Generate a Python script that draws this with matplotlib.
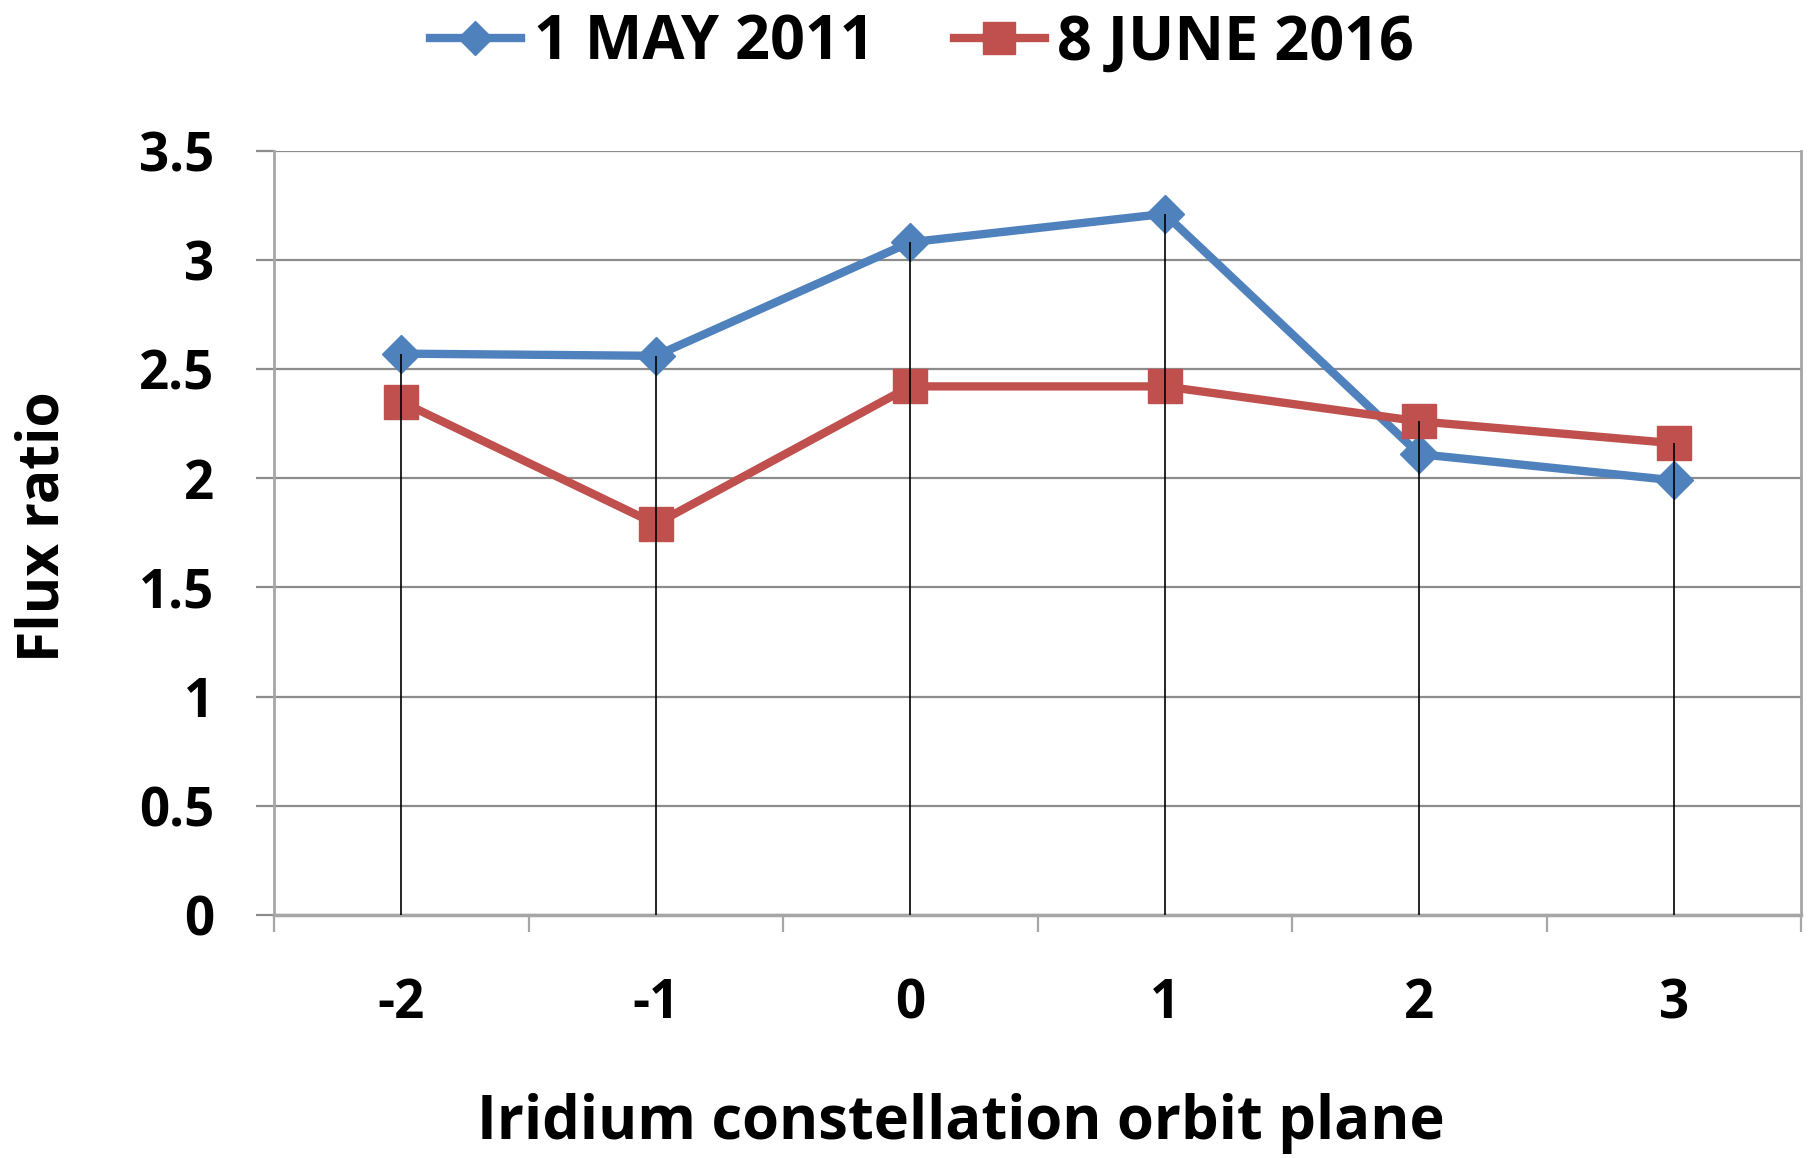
import matplotlib
matplotlib.use("Agg")
import matplotlib.pyplot as plt
import numpy as np

categories = ["-2", "-1", "0", "1", "2", "3"]
may2011 = [2.57, 2.56, 3.08, 3.21, 2.11, 1.99]
june2016 = [2.35, 1.79, 2.42, 2.42, 2.26, 2.16]
series_names = ["1 MAY 2011", "8 JUNE 2016"]
yticks = [0, 0.5, 1, 1.5, 2, 2.5, 3, 3.5]
ytick_labels = ["0", "0.5", "1", "1.5", "2", "2.5", "3", "3.5"]

plt.rcParams['font.family'] = ['Open Sans', 'DejaVu Sans']
plt.rcParams['font.weight'] = 'bold'

W, H = 1816, 1158
fig = plt.figure(figsize=(W / 100, H / 100), dpi=100)
ax = fig.add_axes([274 / W, 1 - 915 / H, (1801 - 274) / W, (915 - 150.5) / H])

x = np.arange(len(categories))
blue = "#4F81BD"
red = "#C0504D"

ax.plot(x, may2011, color=blue, lw=6, marker="D", ms=19, zorder=4, label=series_names[0])
ax.plot(x, june2016, color=red, lw=6, marker="s", ms=25, zorder=5, label=series_names[1])
tops = np.maximum(may2011, june2016)
ax.vlines(x, 0, tops, colors="black", lw=1.2, zorder=6)

ax.set_xlim(-0.5, len(categories) - 0.5)
ax.set_ylim(0, 3.5)
ax.set_yticks(yticks)
ax.set_yticklabels(ytick_labels)
ax.set_xticks(x)
ax.set_xticklabels(categories)
ax.set_xticks(np.arange(-0.5, len(categories)), minor=True)

ax.yaxis.grid(True, color="#8C8C8C", lw=1.6, zorder=0)
ax.set_axisbelow(True)
for s in ["left", "right", "bottom"]:
    ax.spines[s].set_color("#A6A6A6")
    ax.spines[s].set_linewidth(2)
ax.spines["top"].set_visible(False)
ax.spines["bottom"].set_linewidth(2.5)

ax.tick_params(axis="y", which="major", length=13, width=1.6, color="#8C8C8C",
               pad=30, labelsize=38, direction="out")
ax.tick_params(axis="x", which="major", length=0, pad=45, labelsize=38)
ax.tick_params(axis="x", which="minor", length=12, width=1.6, color="#A6A6A6", direction="out")
for lbl in ax.get_xticklabels() + ax.get_yticklabels():
    lbl.set_fontweight("bold")

fig.text(961 / W, 1 - 1123 / H, "Iridium constellation orbit plane", ha="center", va="center",
         fontsize=43, fontweight="bold")
fig.text(44 / W, 1 - 527 / H, "Flux ratio", ha="center", va="center", rotation=90,
         fontsize=41, fontweight="bold")

leg = fig.legend(loc="center", bbox_to_anchor=(922 / W, 1 - 44 / H), ncol=2, frameon=False,
                 fontsize=44, handlelength=1.5, handletextpad=0.2, columnspacing=1.3,
                 borderaxespad=0, borderpad=0, markerscale=0.9)
for t in leg.get_texts():
    t.set_fontweight("bold")

fig.savefig("out.png", dpi=100, facecolor="white")
